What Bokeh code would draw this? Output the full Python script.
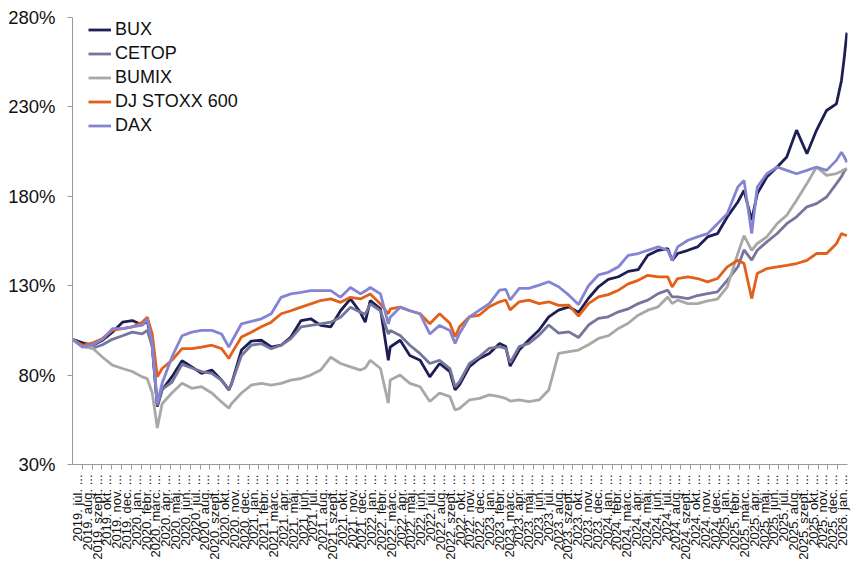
import math
import calendar
from bokeh.plotting import figure
from bokeh.models import Range1d, FixedTicker, Legend, LegendItem
from bokeh.embed import file_html
from bokeh.resources import INLINE

# ---- data (index levels, start = 100%) ----
dates = [
    "2019-07-01", "2019-08-02", "2019-09-03", "2019-10-03", "2019-11-03", "2019-12-04",
    "2020-01-04", "2020-02-04", "2020-02-19", "2020-03-05", "2020-03-21", "2020-04-05",
    "2020-05-05", "2020-06-06", "2020-07-06", "2020-08-06", "2020-09-07", "2020-10-07",
    "2020-10-30", "2020-11-07", "2020-12-08", "2021-01-08", "2021-02-08", "2021-03-09",
    "2021-04-09", "2021-05-09", "2021-06-10", "2021-07-10", "2021-08-10", "2021-09-11",
    "2021-10-11", "2021-11-11", "2021-12-12", "2021-12-27", "2022-01-12", "2022-02-12",
    "2022-03-07", "2022-03-13", "2022-04-13", "2022-05-13", "2022-06-14", "2022-07-14",
    "2022-08-14", "2022-09-15", "2022-10-01", "2022-10-15", "2022-11-15", "2022-12-16",
    "2023-01-16", "2023-02-16", "2023-03-06", "2023-03-20", "2023-04-17", "2023-05-17",
    "2023-06-18", "2023-07-18", "2023-08-18", "2023-09-19", "2023-10-19", "2023-11-19",
    "2023-12-20", "2024-01-20", "2024-02-20", "2024-03-21", "2024-04-21", "2024-05-21",
    "2024-06-22", "2024-07-22", "2024-08-05", "2024-08-22", "2024-09-23", "2024-10-23",
    "2024-11-23", "2024-12-24", "2025-01-24", "2025-02-24", "2025-03-15", "2025-04-08",
    "2025-04-25", "2025-05-25", "2025-06-26", "2025-07-26", "2025-08-26", "2025-09-27",
    "2025-10-27", "2025-11-27", "2025-12-28", "2026-01-13", "2026-01-22", "2026-01-30",
]

bux = [
    100, 98, 96.7, 99.5, 104, 109.6,
    110.5, 108, 110.5, 96, 62.4, 71.7,
    79, 88, 84.6, 81, 82.8, 77.2,
    71.7, 75, 94, 99, 99.5, 95.7,
    96.7, 101.3, 110.5, 111.5, 107.8, 107,
    116, 122.6, 115, 109.6, 121.7, 117,
    88.3, 95.7, 99.5, 91, 88.3, 79,
    86.5, 82, 71.7, 74.5, 84.7, 89.3,
    92.1, 97.7, 96, 85, 94, 99.6,
    105.2, 112.6, 116.3, 118.2, 115, 123,
    129.4, 133.5, 135, 138, 139, 147,
    149.8, 150.7, 144.2, 148, 149.8, 151.7,
    157.3, 159.1, 168.4, 176.8, 183.3, 166.6,
    181.5, 190.8, 196.4, 202, 217, 203.8,
    216.9, 228, 231.7, 244.8, 258, 271.5,
]

cetop = [
    100, 96, 95, 97, 100, 102,
    104, 103, 105, 96, 63, 72,
    76, 86, 84, 82, 81, 77,
    72, 75, 91, 96.7, 97.6, 94.8,
    96.7, 100.4, 107, 107.8, 108.7, 109.6,
    112.4, 118, 115.2, 114, 119.8, 116,
    103, 105, 102.2, 96.7, 92, 86.5,
    88.3, 83.7, 73.5, 76.3, 86.6, 90.3,
    95, 95.9, 95, 87, 95.9, 97.7,
    102.4, 108, 103.5, 104.2, 101, 108,
    111.7, 112.6, 115.4, 117, 120, 121.9,
    125.6, 127.5, 123.7, 123.7, 122.8, 124.5,
    125.6, 126.5, 133, 140.5, 150, 144.3,
    149.8, 154.5, 159.2, 164.7, 168.5, 174.1,
    175.9, 179.6, 187.1, 191, 194, 195.5,
]

bumix = [
    100, 96, 95, 90, 85.6, 83.7,
    82, 79, 78, 70, 50.4, 64,
    70, 75.4, 72.6, 73.5, 70, 65,
    61.5, 64, 70, 74.4, 75.4, 74.4,
    75.4, 77.2, 78.1, 80, 82.8, 90,
    86.5, 84.6, 82.8, 84, 88.3, 83.7,
    64.3, 77.2, 80, 75.4, 73.5, 65.2,
    70, 68, 60.5, 61.4, 66.1, 67,
    68.9, 67.9, 67, 65.5, 66.1, 65.1,
    66.1, 71.7, 92.1, 93.1, 94, 97,
    100.5, 102, 106.1, 109, 113.5, 116.3,
    118.2, 123.7, 120, 121.9, 120, 120,
    121.5, 122.5, 129.4, 148, 158, 149.8,
    153.6, 157.3, 164.7, 169.4, 177.8, 187.1,
    196.4, 191.7, 192.7, 194, 195, 195.5,
]

stoxx600 = [
    100, 96.7, 98, 100.5, 105, 106,
    107, 109.6, 112.4, 103, 79, 83.7,
    88.3, 94.8, 94.8, 95.7, 96.7, 94.8,
    89.3, 92, 101.3, 104, 107, 109.6,
    114.3, 116, 118, 119.8, 121.7, 122.6,
    120.7, 123.5, 122.6, 124, 125.4, 119.8,
    114.3, 117, 118, 116, 114.3, 108.7,
    114.3, 109, 101.4, 107, 112.6, 113.6,
    118.2, 121, 122, 116.5, 121, 121.9,
    120, 121, 119, 119.1, 113, 120,
    123.8, 125, 127.5, 131, 133, 135.8,
    134.9, 134.9, 129.3, 134, 134.9, 134,
    132.1, 134, 140.5, 144.2, 142.4, 122.8,
    136.8, 139.6, 140.5, 141.4, 142.4, 144.2,
    148, 148, 153.5, 159.1, 158.5, 158,
]

dax = [
    100, 95.7, 97, 100, 106, 106,
    107, 108, 111.5, 97.6, 64.3, 75.4,
    90, 102, 104, 105, 105, 103,
    95.7, 98.5, 108.7, 110, 111.5, 114.3,
    123.5, 125.4, 126.3, 127.2, 127.2, 127.2,
    123.5, 129, 125.4, 127, 129, 125.4,
    108.7, 112.4, 118, 116, 114.3, 103,
    107.8, 105, 97.7, 103.3, 112.6, 116.3,
    120, 127.5, 128, 122, 128.5, 128.5,
    130.3, 132.2, 129.4, 124.7, 119.5, 130,
    136, 137.5, 140.6, 147, 148, 149.8,
    151.7, 149.8, 144.2, 151.7, 155.4, 157.3,
    159.1, 164.7, 170.3, 185.2, 188.9, 159.1,
    185.2, 192.6, 196.4, 194.5, 192.6, 194.5,
    196.4, 194.5, 200.1, 204.7, 202, 199,
]

series_names = ["BUX", "CETOP", "BUMIX", "DJ STOXX 600", "DAX"]
series_values = [bux, cetop, bumix, stoxx600, dax]
series_colors = ["#1e1e57", "#76769c", "#a8a8a8", "#e2601a", "#8484d2"]

month_names_hu = ["jan", "febr", "márc", "ápr", "máj", "jún",
                  "júl", "aug", "szept", "okt", "nov", "dec"]
first_year, first_month, n_months = 2019, 7, 79

y_ticks = [30, 80, 130, 180, 230, 280]
y_tick_labels = ["30%", "80%", "130%", "180%", "230%", "280%"]


def month_pos(d):
    y, m, day = map(int, d.split("-"))
    return (y - first_year) * 12 + (m - first_month) + (day - 1) / calendar.monthrange(y, m)[1]


xs = [month_pos(d) for d in dates]

x_tick_labels = []
for k in range(n_months):
    mm = first_month - 1 + k
    yy = first_year + mm // 12
    x_tick_labels.append(f"{yy}. {month_names_hu[mm % 12]}. ...")

FONT = "Liberation Sans"
AXIS_GRAY = "#9a9a9a"

p = figure(frame_width=775, frame_height=447, output_backend="svg", toolbar_location=None,
           x_range=Range1d(0, n_months), y_range=Range1d(30, 280),
           min_border_left=72, min_border_right=5, min_border_top=17, min_border_bottom=60)
p.xgrid.visible = False
p.ygrid.visible = False
p.outline_line_color = None
p.background_fill_color = "white"
p.border_fill_color = "white"

renderers = []
for vals, col in zip(series_values, series_colors):
    r = p.line(xs, vals, line_color=col, line_width=2.8)
    renderers.append(r)

# x axis
xa = p.xaxis[0]
xa.ticker = FixedTicker(ticks=[k + 0.5 for k in range(n_months)],
                        minor_ticks=list(range(1, n_months)))
xa.major_label_overrides = {k + 0.5: lbl for k, lbl in enumerate(x_tick_labels)}
xa.major_label_orientation = math.pi / 2
xa.major_tick_line_color = None
xa.major_tick_out = 0
xa.major_tick_in = 0
xa.major_label_standoff = 5
xa.minor_tick_in = 0
xa.minor_tick_out = 5
xa.minor_tick_line_color = AXIS_GRAY
xa.axis_line_color = AXIS_GRAY
xa.major_label_text_font = FONT
xa.major_label_text_font_size = "13px"
xa.major_label_text_color = "#111111"

# y axis
ya = p.yaxis[0]
ya.ticker = FixedTicker(ticks=y_ticks, minor_ticks=[])
ya.major_label_overrides = {t: l for t, l in zip(y_ticks, y_tick_labels)}
ya.major_tick_in = 0
ya.major_tick_out = 5
ya.major_tick_line_color = AXIS_GRAY
ya.minor_tick_line_color = None
ya.axis_line_color = AXIS_GRAY
ya.major_label_standoff = 12
ya.major_label_text_font = FONT
ya.major_label_text_font_size = "18.5px"
ya.major_label_text_color = "#111111"

legend = Legend(
    items=[LegendItem(label=n, renderers=[r]) for n, r in zip(series_names, renderers)],
    location=(16, 328), padding=0, spacing=3, margin=0,
    glyph_width=23, glyph_height=21, label_height=21, label_standoff=4,
    label_text_font=FONT, label_text_font_size="18px", label_text_color="#111111",
    border_line_color=None, background_fill_alpha=0,
)
p.add_layout(legend)

open("out.html", "w").write(file_html(p, INLINE))
